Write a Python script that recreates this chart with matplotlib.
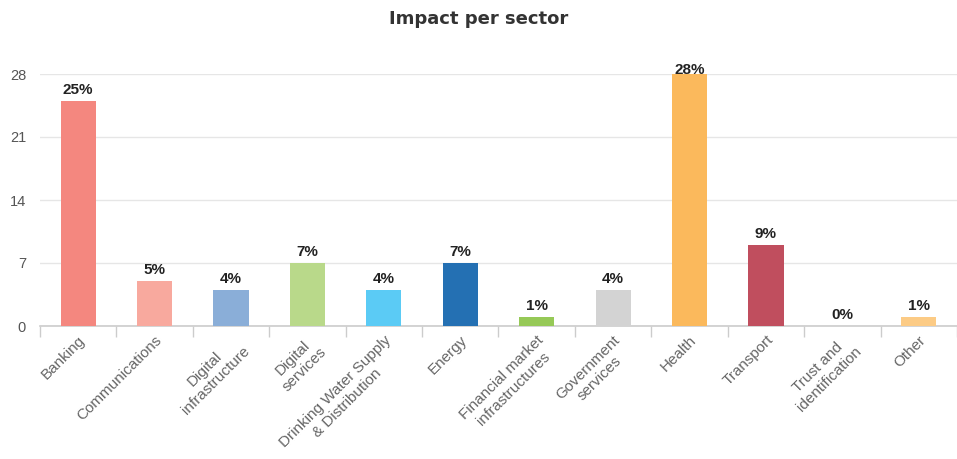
import matplotlib
matplotlib.use("Agg")
import matplotlib.pyplot as plt
import numpy as np

plt.rcParams['font.family'] = ['Liberation Sans', 'DejaVu Sans']

# Share of incidents per sector
sectors = [
    "Banking", "Communications", "Digital\ninfrastructure", "Digital\nservices",
    "Drinking Water Supply\n& Distribution", "Energy", "Financial market\ninfrastructures",
    "Government\nservices", "Health", "Transport", "Trust and\nidentification", "Other",
]
impact = [25, 5, 4, 7, 4, 7, 1, 4, 28, 9, 0, 1]
bar_colors = [
    "#f4877f", "#f8a99e", "#8aaed8", "#b9d98a", "#5bcbf5", "#2470b3",
    "#96c957", "#d3d3d3", "#fbb95c", "#c04e5e", "#cccccc", "#fccb85",
]
y_ticks = [0, 7, 14, 21, 28]

fig = plt.figure(figsize=(9.57, 4.59), dpi=100)
ax = fig.add_axes([40 / 957, 133 / 459, 917 / 957, 252 / 459])

x = np.arange(len(sectors))
ax.bar(x, impact, width=0.46, color=bar_colors, zorder=3)

# value labels above bars, kept from running past the top of the plot area
ymax = y_ticks[-1]
for xi, v in zip(x, impact):
    ax.text(xi, min(v + 0.45, ymax - 0.3), f"{v}%", ha="center", va="bottom",
            fontsize=11, fontweight="bold", color="#222222", clip_on=False, zorder=4)

ax.set_xlim(-0.5, len(sectors) - 0.5)
ax.set_ylim(0, ymax)
ax.set_yticks(y_ticks)
ax.set_yticklabels([str(t) for t in y_ticks], fontsize=10.5, color="#555555")
ax.yaxis.grid(True, color="#e6e6e6", linewidth=1, zorder=0)
ax.tick_params(axis="y", length=0, pad=10)

ax.set_xticks(x)
ax.set_xticklabels(sectors, rotation=45, ha="right", rotation_mode="anchor",
                   fontsize=11, color="#666666", multialignment="center",
                   linespacing=1.2)
ax.set_xticks(np.arange(len(sectors) + 1) - 0.5, minor=True)
ax.tick_params(axis="x", which="major", length=0, pad=5)
ax.tick_params(axis="x", which="minor", length=8, color="#cccccc", width=1)

for side in ("top", "right", "left"):
    ax.spines[side].set_visible(False)
ax.spines["bottom"].set_color("#cccccc")
ax.spines["bottom"].set_linewidth(1.2)

fig.text(0.5, 1 - 19 / 459, "Impact per sector", ha="center", va="center",
         fontsize=13, fontweight="bold", color="#333333",
         family=["DejaVu Sans"])

fig.savefig("out.png", dpi=100)
